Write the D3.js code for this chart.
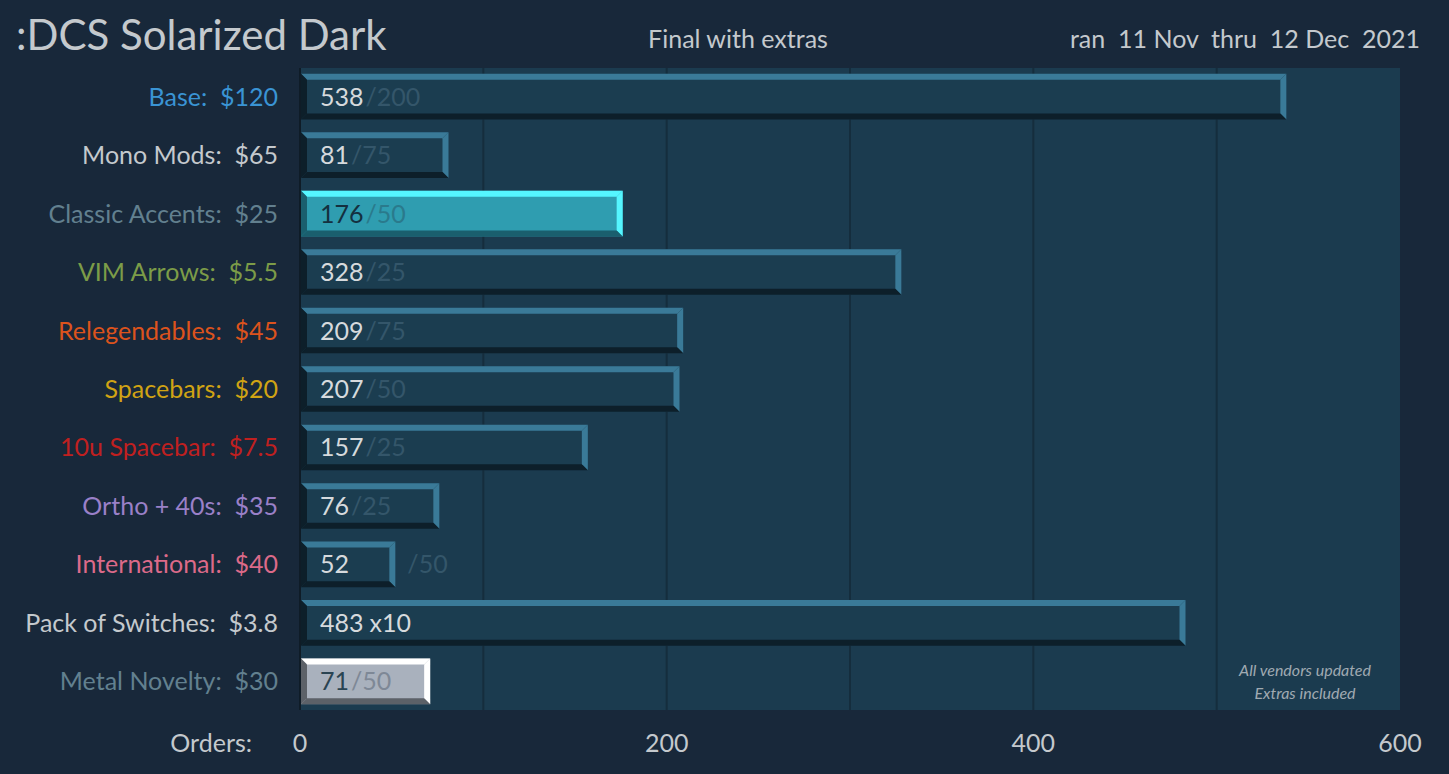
<!DOCTYPE html>
<html><head><meta charset="utf-8">
<script src="https://cdn.jsdelivr.net/npm/d3@7"></script>
<style>body{margin:0;background:#18283a;}svg{display:block;font-family:Lato,"Open Sans",sans-serif;}</style>
</head><body><svg id="c" width="1449" height="774"></svg>
<script>
const categories=["Base:  $120","Mono Mods:  $65","Classic Accents:  $25","VIM Arrows:  $5.5","Relegendables:  $45","Spacebars:  $20","10u Spacebar:  $7.5","Ortho + 40s:  $35","International:  $40","Pack of Switches:  $3.8","Metal Novelty:  $30"];
const orders=[538,81,176,328,209,207,157,76,52,483,71];
const suffixes=["/200","/75","/50","/25","/75","/50","/25","/25","/50","x10","/50"];
const labelColors=["#3a94d4","#c4c9cd","#62808f","#7c9c48","#dc531d","#d0a314","#c02020","#9a80c8","#dc6a89","#c4c9cd","#62808f"];
const styles=["n","n","c","n","n","n","n","n","n","n","m"];
const xTicks=[0,200,400,600];
const grid=[100,200,300,400,500];

const pal={n:{face:"#1b3d50",hi:"#3a7a98",lo:"#0d1f2a",txt:"#d6dadd",suf:"#34566a"},
 c:{face:"#2f9db0",hi:"#55f6ff",lo:"#1a5f6e",txt:"#14303f",suf:"#2a7a8c"},
 m:{face:"#a9b1bd",hi:"#ffffff",lo:"#5c6168",txt:"#2a4452",suf:"#7e8896"}};

const svg=d3.select("#c");
const x=d3.scaleLinear().domain([0,600]).range([300,1400]);
const y=d3.scaleBand().domain(categories).range([68,710]).paddingInner(0.22).paddingOuter(0.1);
svg.append("rect").attr("x",300).attr("y",68).attr("width",1100).attr("height",642).attr("fill","#1b3b4f");
svg.selectAll(".g").data(grid).join("line").attr("x1",d=>x(d)).attr("x2",d=>x(d)).attr("y1",68).attr("y2",710).attr("stroke","#152d3d").attr("stroke-width",2);
svg.append("line").attr("x1",300).attr("x2",300).attr("y1",68).attr("y2",710).attr("stroke","#0f1c27").attr("stroke-width",2);

const b=6;
categories.forEach((c,i)=>{
  const p=pal[styles[i]];
  const x0=x(0)+1,x1=x(orders[i]),y0=y(c),y1=y0+y.bandwidth();
  const g=svg.append("g");
  g.append("rect").attr("x",x0).attr("y",y0).attr("width",x1-x0).attr("height",y1-y0).attr("fill",p.face);
  g.append("polygon").attr("points",`${x0},${y0} ${x1},${y0} ${x1-b},${y0+b} ${x0+b},${y0+b}`).attr("fill",p.hi);
  g.append("polygon").attr("points",`${x1},${y0} ${x1},${y1} ${x1-b},${y1-b} ${x1-b},${y0+b}`).attr("fill",p.hi);
  g.append("polygon").attr("points",`${x0},${y1} ${x1},${y1} ${x1-b},${y1-b} ${x0+b},${y1-b}`).attr("fill",p.lo);
  g.append("polygon").attr("points",`${x0},${y0} ${x0+b},${y0+b} ${x0+b},${y1-b} ${x0},${y1}`).attr("fill",p.lo);
  const ty=y0+y.bandwidth()/2+9;
  const t=g.append("text").attr("x",320).attr("y",ty).attr("font-size",25).attr("fill",p.txt).text(orders[i]);
  const w=t.node().getComputedTextLength();
  const isX=suffixes[i]=="x10";
  let sx=320+w+(isX?6:2);
  if(!isX && sx+40>x1-8) sx=x1+12;
  g.append("text").attr("x",sx).attr("y",ty).attr("font-size",25).attr("fill",isX?p.txt:p.suf).text(suffixes[i]);
  svg.append("text").attr("x",278).attr("y",ty).attr("text-anchor","end").attr("font-size",25).attr("fill",labelColors[i]).attr("xml:space","preserve").text(c);
});

svg.selectAll(".xt").data(xTicks).join("text").attr("x",d=>x(d)).attr("y",752).attr("text-anchor","middle").attr("font-size",25).attr("fill","#c4c9cd").text(d=>d);
svg.append("text").attr("x",252).attr("y",752).attr("text-anchor","end").attr("font-size",25).attr("fill","#c4c9cd").text("Orders:");
svg.append("text").attr("x",16).attr("y",50).attr("font-size",42).attr("fill","#c4c9cd").text(":DCS Solarized Dark");
svg.append("text").attr("x",738).attr("y",48).attr("text-anchor","middle").attr("font-size",25).attr("fill","#c4c9cd").text("Final with extras");
svg.append("text").attr("x",1420).attr("y",48).attr("text-anchor","end").attr("font-size",25).attr("fill","#c4c9cd").attr("xml:space","preserve").text("ran  11 Nov  thru  12 Dec  2021");
svg.append("text").attr("x",1305).attr("y",676).attr("text-anchor","middle").attr("font-size",16).attr("font-style","italic").attr("fill","#a0aab2").text("All vendors updated");
svg.append("text").attr("x",1305).attr("y",699).attr("text-anchor","middle").attr("font-size",16).attr("font-style","italic").attr("fill","#a0aab2").text("Extras included");
</script></body></html>
